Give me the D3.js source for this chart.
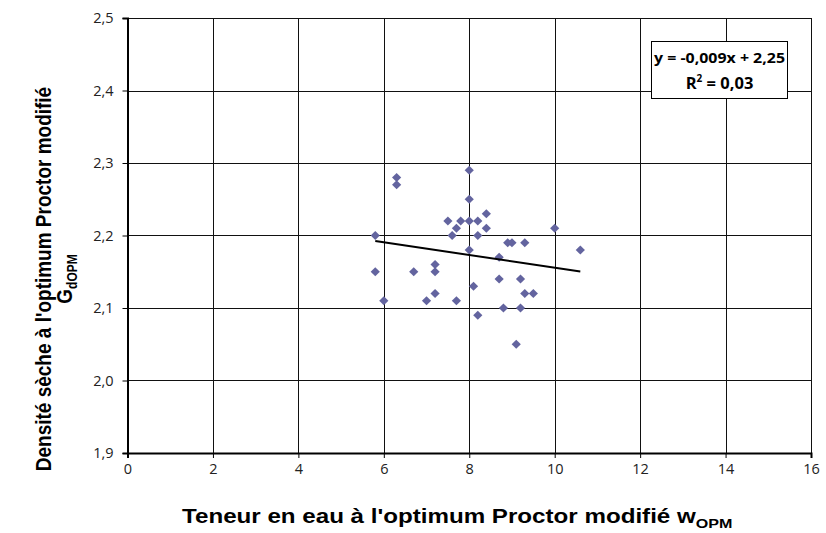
<!DOCTYPE html>
<html><head><meta charset="utf-8">
<script src="https://cdn.jsdelivr.net/npm/d3@7/dist/d3.min.js"></script>
<style>body{margin:0;background:#fff}svg{display:block}</style>
</head><body>
<svg id="chart" width="826" height="533"></svg>
<script>
const waterContent = [5.8,5.8,6.0,6.3,6.3,6.7,7.0,7.2,7.2,7.2,7.5,7.6,7.7,7.7,7.8,8.0,8.0,8.0,8.0,8.1,8.2,8.2,8.2,8.4,8.4,8.7,8.7,8.8,8.9,9.0,9.1,9.2,9.2,9.3,9.3,9.5,10.0,10.6];
const dryDensity   = [2.20,2.15,2.11,2.28,2.27,2.15,2.11,2.16,2.15,2.12,2.22,2.20,2.21,2.11,2.22,2.29,2.25,2.22,2.18,2.13,2.22,2.20,2.09,2.23,2.21,2.17,2.14,2.10,2.19,2.19,2.05,2.14,2.10,2.19,2.12,2.12,2.21,2.18];
const xTicks = [0,2,4,6,8,10,12,14,16];
const yTicks = [1.9,2.0,2.1,2.2,2.3,2.4,2.5];
const trendSlope = -0.0088;
const trendIntercept = 2.2435;
const trendRange = [5.8, 10.6];
const equationLine1 = "y = -0,009x + 2,25";
const r2Value = "0,03";

const svg = d3.select("#chart");
const L = 127.5, R = 811, T = 18, B = 453;
const x = d3.scaleLinear().domain([0,16]).range([L,R]);
const y = d3.scaleLinear().domain([1.9,2.5]).range([B,T]);
const fmt = d => d3.format(".1f")(d).replace(".", ",");

// grid
const g = svg.append("g");
g.selectAll(".hg").data(yTicks).join("line")
  .attr("x1", L).attr("x2", R).attr("y1", d => Math.round(y(d))+0.5).attr("y2", d => Math.round(y(d))+0.5)
  .attr("stroke", "#111").attr("stroke-width", 1);
g.selectAll(".vg").data(xTicks).join("line")
  .attr("y1", T).attr("y2", B).attr("x1", d => Math.round(x(d))+0.5).attr("x2", d => Math.round(x(d))+0.5)
  .attr("stroke", "#111").attr("stroke-width", 1);

// axes
const xAxis = svg.append("g").attr("transform", `translate(0,${B})`)
  .call(d3.axisBottom(x).tickValues(xTicks).tickSize(5).tickPadding(4).tickFormat(d => d));
const yAxis = svg.append("g").attr("transform", `translate(${L},0)`)
  .call(d3.axisLeft(y).tickValues(yTicks).tickSize(5).tickPadding(9).tickFormat(fmt));
[xAxis, yAxis].forEach(a => {
  a.select(".domain").attr("stroke", "#000").attr("stroke-width", 2);
  a.selectAll(".tick line").attr("stroke", "#000");
  a.selectAll("text").attr("font-family", "'Open Sans', sans-serif").attr("font-size", 14.5).attr("fill", "#222");
});
xAxis.selectAll("text").attr("dy", "0.85em");

// points
const pts = waterContent.map((w,i) => ({w, d: dryDensity[i]}));
svg.append("g").selectAll("path").data(pts).join("path")
  .attr("transform", p => `translate(${x(p.w)},${y(p.d)})`)
  .attr("d", "M0,-4.6L4.6,0L0,4.6L-4.6,0Z")
  .attr("fill", "#63649f");

// trend line
svg.append("line")
  .attr("x1", x(trendRange[0])).attr("y1", y(trendSlope*trendRange[0]+trendIntercept))
  .attr("x2", x(trendRange[1])).attr("y2", y(trendSlope*trendRange[1]+trendIntercept))
  .attr("stroke", "#000").attr("stroke-width", 2);

// equation box
svg.append("rect").attr("x", 651.5).attr("y", 41.5).attr("width", 136).attr("height", 57)
  .attr("fill", "#fff").attr("stroke", "#000").attr("stroke-width", 1);
const eq = svg.append("g").attr("font-family", "'Open Sans', sans-serif").attr("font-weight", "bold")
  .attr("font-size", 15).attr("text-anchor", "middle").attr("fill", "#000");
eq.append("text").attr("x", 719.5).attr("y", 63).attr("textLength", 131).attr("lengthAdjust", "spacingAndGlyphs").text(equationLine1);
const r2 = eq.append("text").attr("x", 719.5).attr("y", 89).attr("font-size", 16.5);
r2.append("tspan").text("R");
r2.append("tspan").attr("dy", -7).attr("font-size", 10).text("2");
r2.append("tspan").attr("dy", 7).text(" = " + r2Value);

// x axis title (stretched horizontally like the reference)
const xtG = svg.append("g");
const xt = xtG.append("text").attr("x", 0).attr("y", 0)
  .attr("font-family", "'Liberation Sans', Arial, sans-serif").attr("font-weight", "bold").attr("font-size", 19.5).attr("fill", "#000");
xt.append("tspan").text("Teneur en eau à l'optimum Proctor modifié w");
xt.append("tspan").attr("dy", 5).attr("font-size", 13).text("OPM");
const xw = xt.node().getBBox().width;
xtG.attr("transform", `translate(182,523) scale(${551/xw},1)`);

// y axis title
const yt = svg.append("g").attr("transform", "translate(51,279) rotate(-90) scale(1,1.18)")
  .attr("font-family", "'Liberation Sans', Arial, sans-serif").attr("font-weight", "bold").attr("font-size", 19).attr("fill", "#000").attr("text-anchor", "middle");
yt.append("text").attr("x", 0).attr("y", 0).text("Densité sèche à l'optimum Proctor modifié");
const y2 = yt.append("text").attr("x", 0).attr("y", 18);
y2.append("tspan").text("G");
y2.append("tspan").attr("dy", 4).attr("font-size", 12).text("dOPM");
</script>
</body></html>
